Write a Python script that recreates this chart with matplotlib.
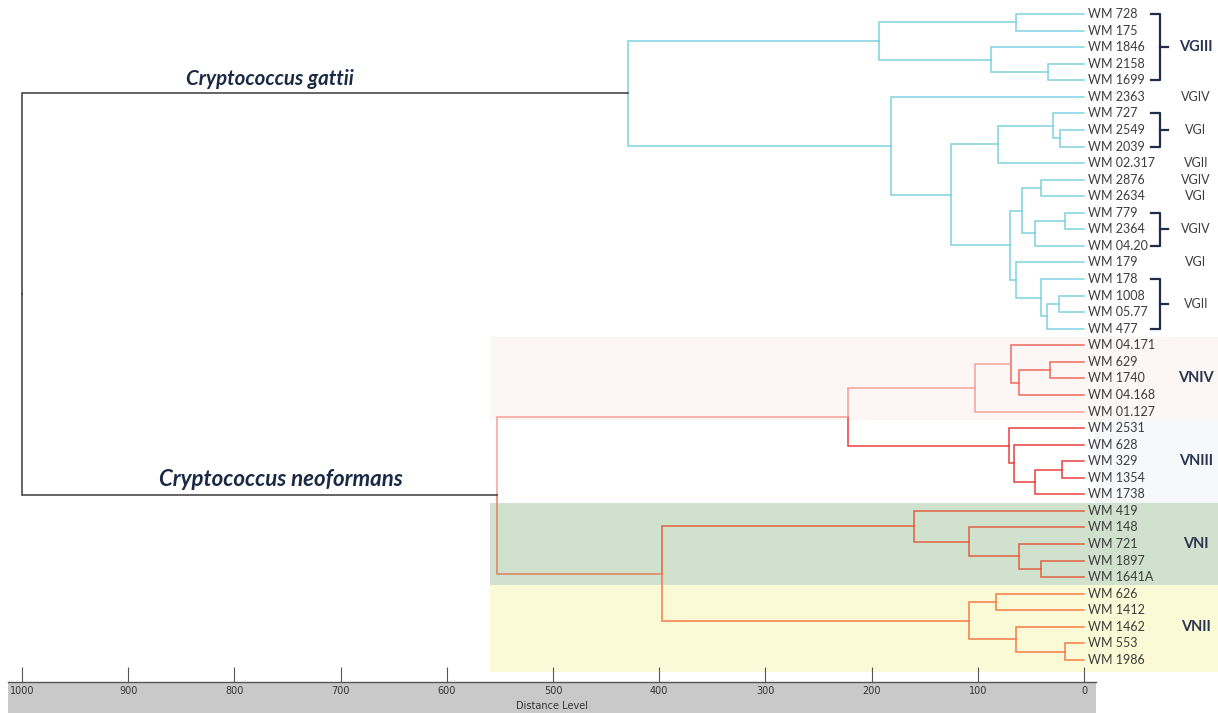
import matplotlib
matplotlib.use("Agg")
import matplotlib.pyplot as plt

# ---------------- data ----------------
leaves = ["WM 728", "WM 175", "WM 1846", "WM 2158", "WM 1699", "WM 2363", "WM 727",
          "WM 2549", "WM 2039", "WM 02.317", "WM 2876", "WM 2634", "WM 779", "WM 2364",
          "WM 04.20", "WM 179", "WM 178", "WM 1008", "WM 05.77", "WM 477",
          "WM 04.171", "WM 629", "WM 1740", "WM 04.168", "WM 01.127", "WM 2531",
          "WM 628", "WM 329", "WM 1354", "WM 1738", "WM 419", "WM 148", "WM 721",
          "WM 1897", "WM 1641A", "WM 626", "WM 1412", "WM 1462", "WM 553", "WM 1986"]

merge_names = ["g1", "g2", "g3", "g4", "g5", "g6", "g7", "g8", "g9", "g10", "g11", "g12",
               "g13", "g14", "g15", "g16", "g17", "g18", "gattii",
               "n1", "n2", "n3", "n4", "n5", "n6", "n7", "n8", "n9", "n10", "n11", "n12",
               "n13", "n14", "n15", "n16", "n17", "n18", "neo", "root"]
merge_left = ["WM 728", "WM 2158", "WM 1846", "g1", "WM 2549", "WM 727", "g6", "WM 2876",
              "WM 779", "g9", "g8", "WM 1008", "g12", "WM 178", "WM 179", "g11", "g7",
              "WM 2363", "g4",
              "WM 629", "n1", "WM 04.171", "n3", "WM 329", "n5", "WM 628", "WM 2531", "n4",
              "WM 1897", "WM 721", "WM 148", "WM 419", "WM 626", "WM 553", "WM 1462", "n14",
              "n13", "n9", "gattii"]
merge_right = ["WM 175", "WM 1699", "g2", "g3", "WM 2039", "g5", "WM 02.317", "WM 2634",
               "WM 2364", "WM 04.20", "g10", "WM 05.77", "WM 477", "g13", "g14", "g15", "g16",
               "g17", "g18",
               "WM 1740", "WM 04.168", "n2", "WM 01.127", "WM 1354", "WM 1738", "n6", "n7",
               "n8", "WM 1641A", "n10", "n11", "n12", "WM 1412", "WM 1986", "n15", "n16",
               "n17", "n18", "neo"]
merge_height = [64.3, 34.2, 87.9, 192.7, 22.3, 28.9, 81.3, 40.2, 17.9, 46.1, 58.1, 23.5,
                34.6, 40.2, 64.0, 69.4, 125.2, 181.4, 429.4,
                32.0, 60.9, 69.0, 102.6, 21.0, 46.1, 65.6, 70.3, 222.2, 40.2, 61.5, 108.6,
                160.1, 82.9, 17.9, 64.3, 108.0, 397.4, 552.7, 1000.0]

# clade labels at right: (first leaf, last leaf, text, bold, bracket)
clade_first = ["WM 728", "WM 2363", "WM 727", "WM 02.317", "WM 2876", "WM 2634", "WM 779",
               "WM 179", "WM 178", "WM 04.171", "WM 2531", "WM 419", "WM 626"]
clade_last = ["WM 1699", "WM 2363", "WM 2039", "WM 02.317", "WM 2876", "WM 2634", "WM 04.20",
              "WM 179", "WM 477", "WM 01.127", "WM 1738", "WM 1641A", "WM 1986"]
clade_text = ["VGIII", "VGIV", "VGI", "VGII", "VGIV", "VGI", "VGIV", "VGI", "VGII",
              "VNIV", "VNIII", "VNI", "VNII"]
clade_bold = [True, False, False, False, False, False, False, False, False,
              True, True, True, True]
clade_bracket = [True, False, True, False, False, False, True, False, True,
                 False, False, False, False]

species = ["Cryptococcus gattii", "Cryptococcus neoformans"]
axis_ticks = [1000, 900, 800, 700, 600, 500, 400, 300, 200, 100, 0]

# ---------------- style ----------------
DARK = "#3a3a3a"
CYAN = "#7fd2df"
color_override = {"gattii": DARK, "neo": DARK, "g4": CYAN, "g18": CYAN,
                  "n9": "#f3a098", "n4": "#f3a098", "n2": "#ef6a62", "WM 04.171": "#ef6a62",
                  "n8": "#e8403f", "n18": "#e0805f", "n13": "#e0603e", "n17": "#f47c45"}
NAVY = "#1f2d4a"
LABEL = "#3c3c3c"

W, H = 1218, 713
fig = plt.figure(figsize=(W / 100, H / 100), dpi=100)

# pixel mapping: d=1000 at x=22px, d=0 at x=1084px; leaf i at y=14+16.564*i px
pxd = (1084 - 22) / 1000.0
x_left = 1000 + 22 / pxd
x_right = 1000 - (W - 22) / pxd
step = (660 - 14) / 39.0
y_top = -14 / step
y_bot = (H - 14) / step

ax = fig.add_axes([0, 0, 1, 1])
ax.set_xlim(x_left, x_right)
ax.set_ylim(y_bot, y_top)
ax.axis("off")

def dx(px):
    return 1000 - (px - 22) / pxd

# background bands
idx = {n: i for i, n in enumerate(leaves)}
band_specs = [("WM 04.171", "WM 01.127", "#fcf6f5", dx(490)),
              ("WM 2531", "WM 1738", "#f6f8fc", dx(1095)),
              ("WM 419", "WM 1641A", "#d0e1cd", dx(490)),
              ("WM 626", "WM 1986", "#fafad6", dx(490))]
for a, b, c, xs in band_specs:
    y0 = idx[a] - 0.5
    y1 = idx[b] + 0.5 + (0.2 if b == "WM 1986" else 0)
    ax.fill_between([xs, x_right], y0, y1, color=c, lw=0, zorder=0)

# dendrogram
pos = {n: float(i) for i, n in enumerate(leaves)}
hgt = {n: 0.0 for n in leaves}
children = {}
for n, a, b, h in zip(merge_names, merge_left, merge_right, merge_height):
    pos[n] = (pos[a] + pos[b]) / 2
    hgt[n] = h
    children[n] = (a, b)

col = {}
def assign(node, c):
    c = color_override.get(node, c)
    col[node] = c
    if node in children:
        for ch in children[node]:
            assign(ch, c)
assign("root", DARK)

for n in merge_names:
    for ch in children[n]:
        ax.plot([hgt[n], hgt[n], hgt[ch]], [pos[n], pos[ch], pos[ch]],
                color=col[ch], lw=1.1, solid_joinstyle="miter", zorder=2)

# leaf labels
for i, n in enumerate(leaves):
    ax.text(dx(1088), i, n, ha="left", va="center", fontsize=9, color=LABEL,
            family="Lato", zorder=3)

# clade labels and brackets
for a, b, t, bold, br in zip(clade_first, clade_last, clade_text, clade_bold, clade_bracket):
    y0, y1 = idx[a], idx[b]
    ym = (y0 + y1) / 2
    if br:
        xb = dx(1160)
        ax.plot([dx(1151), xb, xb, dx(1151)], [y0, y0, y1, y1], color=NAVY, lw=1.6,
                solid_joinstyle="round", zorder=3)
        ax.plot([xb, dx(1168)], [ym, ym], color=NAVY, lw=1.6, zorder=3)
    ax.text(dx(1196), ym, t, ha="center", va="center",
            fontsize=10.5 if bold else 9, fontweight="bold" if bold else "normal",
            color="#2a3550" if bold else LABEL, family="Lato", zorder=3)

# species labels
ax.text(dx(270), pos["gattii"] - 0.85, species[0], ha="center", va="center", fontsize=14.8,
        fontweight="bold", style="italic", color="#1a2a45", family="Lato")
ax.text(dx(281), pos["neo"] - 0.95, species[1], ha="center", va="center", fontsize=16,
        fontweight="bold", style="italic", color="#1a2a45", family="Lato")

# distance axis bar
bx0, bx1 = 8, 1096
bar = fig.add_axes([bx0 / W, 0, (bx1 - bx0) / W, 31 / H])
bar.set_facecolor("#c9c9c9")
bar.set_xlim(1000 + (22 - bx0) / pxd, 1000 - (bx1 - 22) / pxd)
bar.set_ylim(0, 1)
for s in ["left", "right", "bottom"]:
    bar.spines[s].set_visible(False)
bar.spines["top"].set_color("#555555")
bar.spines["top"].set_linewidth(1.0)
bar.set_yticks([])
bar.set_xticks(axis_ticks)
bar.tick_params(axis="x", which="both", bottom=False, top=True, labelbottom=False,
                labeltop=False, direction="out", length=11, width=0.8, color="#555555")
for t in axis_ticks:
    bar.text(t, 0.72, str(t), ha="center", va="center", fontsize=7, color="#333333",
             family="DejaVu Sans")
bar.text(0.5, 0.24, "Distance Level", transform=bar.transAxes, ha="center", va="center",
         fontsize=7, color="#333333", family="DejaVu Sans")

fig.savefig("out.png", dpi=100)
